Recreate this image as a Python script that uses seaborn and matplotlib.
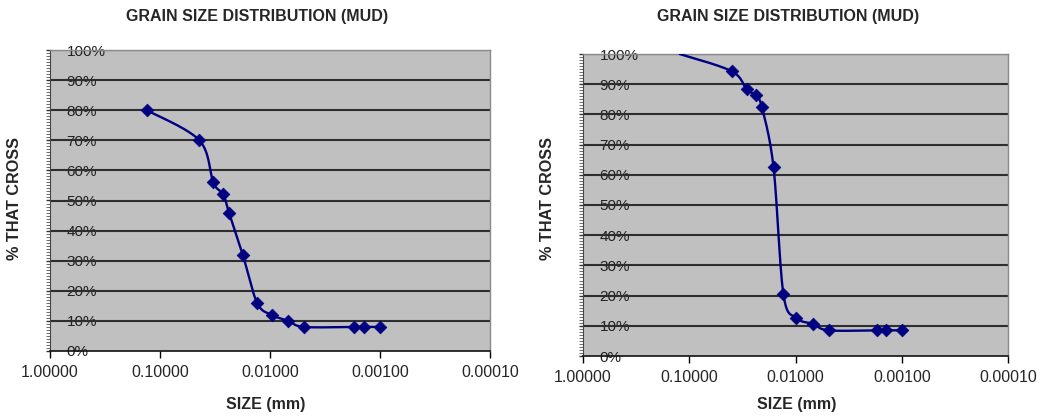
import numpy as np
import matplotlib
matplotlib.use("Agg")
import matplotlib.pyplot as plt
import seaborn as sns
from matplotlib.ticker import FixedLocator, MultipleLocator, FuncFormatter

sns.set_style("white")
plt.rcParams['font.family'] = ['Liberation Sans', 'DejaVu Sans']

# ---- data ----
title = "GRAIN SIZE DISTRIBUTION (MUD)"
x_label = "SIZE (mm)"
y_label = "% THAT CROSS"
x_ticks = [1.0, 0.1, 0.01, 0.001, 0.0001]
x_tick_labels = ["1.00000", "0.10000", "0.01000", "0.00100", "0.00010"]

size_left = [0.132, 0.0439, 0.0328, 0.0266, 0.0236, 0.0177, 0.0131,
             0.00966, 0.00681, 0.00491, 0.00171, 0.00140, 0.00100]
pct_left = [0.80, 0.70, 0.56, 0.52, 0.46, 0.32, 0.16,
            0.12, 0.10, 0.08, 0.08, 0.08, 0.08]

size_right = [0.123, 0.0399, 0.0288, 0.0237, 0.0207, 0.0161, 0.0130,
              0.00982, 0.00684, 0.00487, 0.00172, 0.00140, 0.00100]
pct_right = [1.00, 0.943, 0.883, 0.863, 0.823, 0.625, 0.205,
             0.126, 0.106, 0.085, 0.085, 0.085, 0.085]
right_marker_from = 1  # first point of the right series has no visible marker

NAVY = "#000080"
BG = "#c0c0c0"


def smooth(xs, ys, wpx, hpx, n=40):
    """Excel-like smoothed line (Catmull-Rom Bezier) in screen space."""
    u = -np.log10(np.asarray(xs, float)) / 4.0 * wpx
    v = np.asarray(ys, float) * hpx
    P = np.column_stack([u, v])
    P = np.vstack([P[0], P, P[-1]])
    out = []
    for i in range(1, len(P) - 2):
        p0, p1, p2, p3 = P[i - 1], P[i], P[i + 1], P[i + 2]
        c1 = p1 + (p2 - p0) / 6.0
        c2 = p2 - (p3 - p1) / 6.0
        t = np.linspace(0, 1, n)[:, None]
        seg = ((1 - t) ** 3) * p1 + 3 * ((1 - t) ** 2) * t * c1 + 3 * (1 - t) * t ** 2 * c2 + t ** 3 * p2
        out.append(seg if i == 1 else seg[1:])
    S = np.vstack(out)
    return 10 ** (-S[:, 0] / wpx * 4.0), S[:, 1] / hpx


fig = plt.figure(figsize=(10.46, 4.18), dpi=100)
W, H = 1046, 418

panels = [
    dict(rect=(50, 50, 490, 351), xs=size_left, ys=pct_left, m0=0,
         title_xy=(257, 17), ylab_xy=(15, 198), xlab_xy=(266, 405)),
    dict(rect=(583, 54, 1008, 356), xs=size_right, ys=pct_right, m0=right_marker_from,
         title_xy=(788, 17), ylab_xy=(548, 198), xlab_xy=(797, 405)),
]

for p in panels:
    l, t, r, b = p["rect"]
    ax = fig.add_axes([l / W, (H - b) / H, (r - l) / W, (b - t) / H])
    ax.set_facecolor(BG)
    ax.set_xscale("log")
    ax.set_xlim(1.0, 0.0001)
    ax.set_ylim(0, 1.0)

    sx, sy = smooth(p["xs"], p["ys"], r - l, b - t)
    sns.lineplot(x=sx, y=sy, sort=False, estimator=None, color=NAVY,
                 linewidth=1.7, ax=ax, zorder=3)
    sns.scatterplot(x=p["xs"][p["m0"]:], y=p["ys"][p["m0"]:], marker="D", s=42,
                    color=NAVY, edgecolor=NAVY, linewidth=0.5, ax=ax, zorder=4)

    # grid
    for yv in np.arange(0.1, 1.01, 0.1):
        ax.axhline(yv, color="#2e2e2e", linewidth=1.5, zorder=1)

    # x axis
    ax.set_xticks(x_ticks)
    ax.set_xticklabels(x_tick_labels)
    ax.xaxis.set_minor_locator(FixedLocator([]))
    ax.tick_params(axis="x", which="major", direction="out", length=5, width=1,
                   color="black", labelsize=11.5, pad=5, bottom=True)

    # y axis
    ax.yaxis.set_major_locator(MultipleLocator(0.1))
    ax.yaxis.set_minor_locator(MultipleLocator(0.01))
    ax.yaxis.set_major_formatter(FuncFormatter(lambda v, pos: f"{v*100:.0f}%"))
    ax.tick_params(axis="y", which="major", direction="out", length=3, width=1,
                   color="#333333", labelsize=11, pad=-15, left=True)
    ax.tick_params(axis="y", which="minor", direction="out", length=3, width=0.6,
                   color="#555555", left=True)
    for lab in ax.get_yticklabels():
        lab.set_horizontalalignment("left")
        lab.set_color("#222222")

    for side in ["top", "right"]:
        ax.spines[side].set_color("#8a8a8a")
        ax.spines[side].set_linewidth(1.0)
    ax.spines["left"].set_color("#444444")
    ax.spines["bottom"].set_color("#111111")
    ax.spines["bottom"].set_linewidth(1.2)
    ax.set_xlabel("")
    ax.set_ylabel("")

    fig.text(p["title_xy"][0] / W, 1 - p["title_xy"][1] / H, title,
             ha="center", va="center", fontsize=11.5, fontweight="bold")
    fig.text(p["ylab_xy"][0] / W, 1 - p["ylab_xy"][1] / H, y_label,
             ha="center", va="center", rotation=90, fontsize=11.7, fontweight="bold")
    fig.text(p["xlab_xy"][0] / W, 1 - p["xlab_xy"][1] / H, x_label,
             ha="center", va="center", fontsize=11.5, fontweight="bold")

fig.savefig("out.png", dpi=100)
